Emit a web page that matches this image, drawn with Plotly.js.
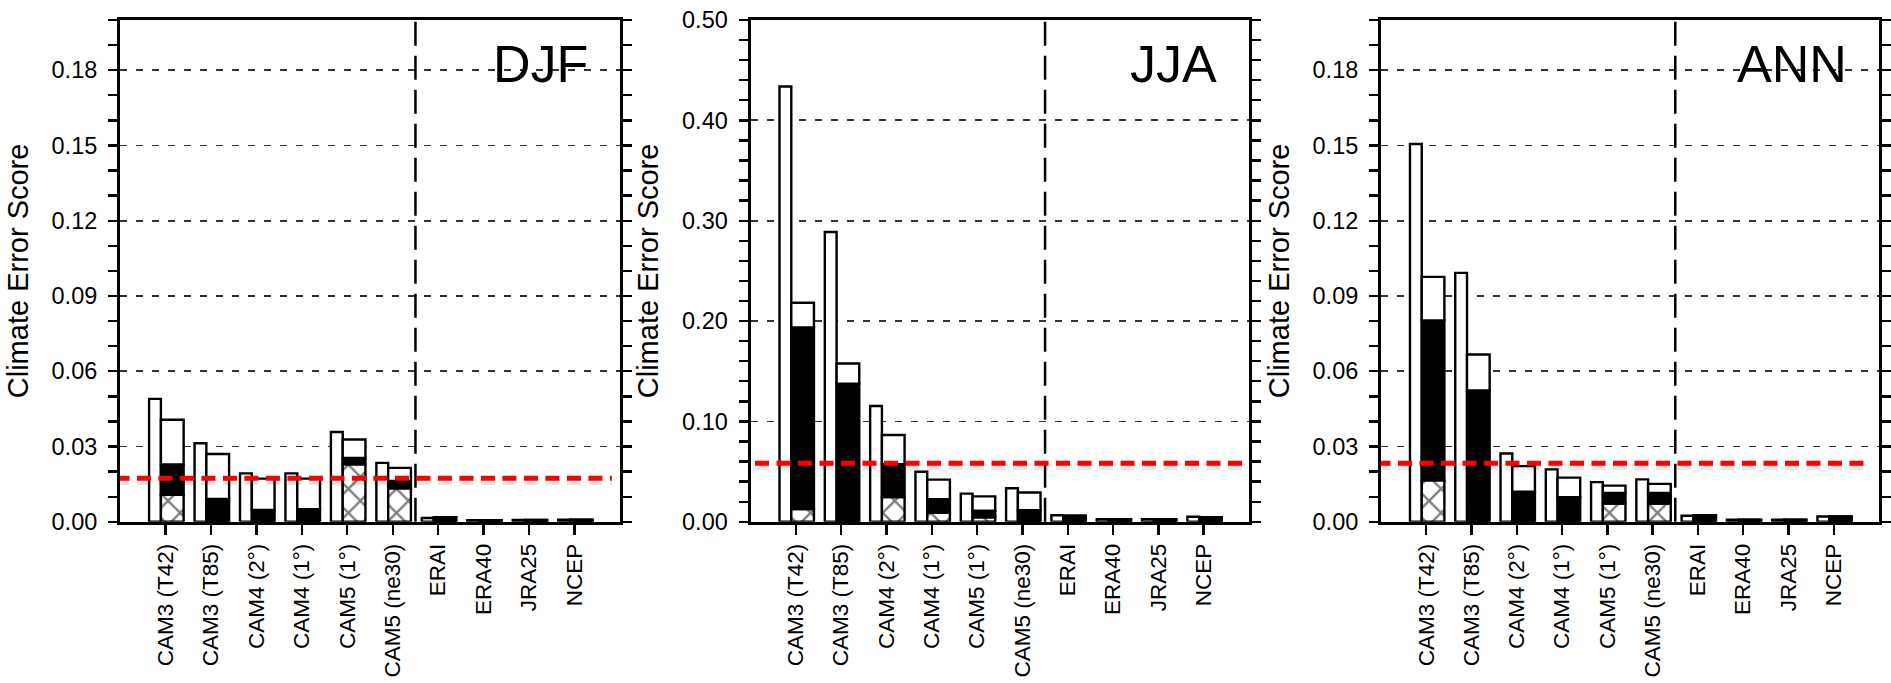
<!DOCTYPE html>
<html>
<head>
<meta charset="utf-8">
<script src="https://cdn.plot.ly/plotly-3.0.1.min.js"></script>
<style>html,body{margin:0;padding:0;background:#fff;}</style>
</head>
<body>
<div id="chart" style="width:1891px;height:683px;"></div>
<script>
// ---------- data ----------
const categories = ['CAM3 (T42)', 'CAM3 (T85)', 'CAM4 (2°)', 'CAM4 (1°)', 'CAM5 (1°)', 'CAM5 (ne30)', 'ERAI', 'ERA40', 'JRA25', 'NCEP'];
const panelNames = ['DJF', 'JJA', 'ANN'];

// left (narrow, white) bar
const djfLeft  = [0.0490, 0.0313, 0.0193, 0.0193, 0.0358, 0.0235, 0.0015, 0.0006, 0.0007, 0.0008];
// right (stacked) bar: total, top of black part, top of hatched part
const djfRight = [0.0407, 0.0270, 0.0172, 0.0172, 0.0328, 0.0215, 0.0018, 0.0006, 0.0007, 0.0008];
const djfBlack = [0.0229, 0.0091, 0.0047, 0.0050, 0.0254, 0.0163, 0.0018, 0.0006, 0.0007, 0.0008];
const djfHatch = [0.0108, 0, 0, 0, 0.0229, 0.0134, 0, 0, 0, 0];

const jjaLeft  = [0.4338, 0.2888, 0.1154, 0.0499, 0.0281, 0.0335, 0.0065, 0.0027, 0.0027, 0.0050];
const jjaRight = [0.2183, 0.1578, 0.0865, 0.0420, 0.0253, 0.0292, 0.0060, 0.0027, 0.0027, 0.0046];
const jjaBlack = [0.1937, 0.1375, 0.0573, 0.0224, 0.0110, 0.0115, 0.0060, 0.0027, 0.0027, 0.0046];
const jjaHatch = [0.0128, 0, 0.0246, 0.0093, 0.0046, 0, 0, 0, 0, 0];

const annLeft  = [0.1506, 0.0992, 0.0272, 0.0209, 0.0158, 0.0169, 0.0024, 0.0008, 0.0008, 0.0021];
const annRight = [0.0976, 0.0667, 0.0222, 0.0176, 0.0144, 0.0151, 0.0026, 0.0008, 0.0008, 0.0021];
const annBlack = [0.0803, 0.0524, 0.0120, 0.0098, 0.0115, 0.0115, 0.0026, 0.0008, 0.0008, 0.0021];
const annHatch = [0.0165, 0, 0, 0, 0.0073, 0.0073, 0, 0, 0, 0];

// red dashed reference level per panel
const refLevels = [0.0174, 0.0584, 0.0233];

// y-axis settings per panel
const yMax   = [0.2, 0.5, 0.2];
const yMajor = [0.03, 0.1, 0.03];
const yMinor = [0.01, 0.02, 0.01];

// ---------- build ----------
const panels = [
  {left: djfLeft, right: djfRight, black: djfBlack, hatch: djfHatch},
  {left: jjaLeft, right: jjaRight, black: jjaBlack, hatch: jjaHatch},
  {left: annLeft, right: annRight, black: annBlack, hatch: annHatch}
];
const xDomains = [[120/1891, 620/1891], [750.5/1891, 1249/1891], [1381/1891, 1879/1891]];
const yDomain = [1 - 521.8/683, 1 - 20/683];
const FONT = 'Liberation Sans, Arial, Helvetica, sans-serif';
const outline = {color: 'black', width: 2.4};

const traces = [];
const layout = {
  width: 1891, height: 683,
  margin: {l: 0, r: 0, t: 0, b: 0},
  paper_bgcolor: 'white', plot_bgcolor: 'white',
  barmode: 'overlay', showlegend: false,
  font: {family: FONT, color: 'black'},
  shapes: [], annotations: []
};

panels.forEach((p, i) => {
  const sfx = i === 0 ? '' : String(i + 1);
  const xa = 'x' + sfx, ya = 'y' + sfx;
  const diffBlack = p.black.map((v, k) => v - p.hatch[k]);
  const diffTop = p.right.map((v, k) => v - p.black[k]);

  traces.push({
    type: 'bar', x: categories, y: p.left, base: 0, xaxis: xa, yaxis: ya,
    width: 0.26, offset: -0.36,
    marker: {color: 'white', line: outline}, hoverinfo: 'y'
  });
  traces.push({
    type: 'bar', x: categories, y: p.hatch, base: 0, xaxis: xa, yaxis: ya,
    width: 0.5, offset: -0.10,
    marker: {color: 'white', line: outline,
      pattern: {shape: 'x', fillmode: 'overlay', fgcolor: 'black', bgcolor: 'white', size: 17, solidity: 0.26}},
    hoverinfo: 'y'
  });
  traces.push({
    type: 'bar', x: categories, y: diffBlack, base: p.hatch, xaxis: xa, yaxis: ya,
    width: 0.5, offset: -0.10,
    marker: {color: 'black', line: outline}, hoverinfo: 'y'
  });
  traces.push({
    type: 'bar', x: categories, y: diffTop, base: p.black, xaxis: xa, yaxis: ya,
    width: 0.5, offset: -0.10,
    marker: {color: 'white', line: outline}, hoverinfo: 'y'
  });

  layout['xaxis' + sfx] = {
    type: 'category', categoryorder: 'array', categoryarray: categories,
    domain: xDomains[i], anchor: ya, range: [-1, 10],
    tickangle: -90, ticks: 'outside', ticklen: 10, tickwidth: 2.4, tickcolor: 'black',
    showline: true, linewidth: 3, linecolor: 'black', mirror: true,
    showgrid: false, zeroline: false,
    tickfont: {family: FONT, size: 22.5, color: 'black'},
    ticklabelstandoff: 0, fixedrange: true
  };
  layout['yaxis' + sfx] = {
    domain: yDomain, anchor: xa, range: [0, yMax[i]],
    tick0: 0, dtick: yMajor[i], tickformat: '.2f',
    ticks: 'outside', ticklen: 9, tickwidth: 2.4, tickcolor: 'black',
    minor: {dtick: yMinor[i], ticks: 'outside', ticklen: 9, tickwidth: 2.4, tickcolor: 'black', showgrid: false},
    showline: true, linewidth: 3, linecolor: 'black', mirror: 'ticks',
    showgrid: true, gridcolor: '#333', gridwidth: 1.8, griddash: '7px,9px',
    zeroline: false,
    tickfont: {family: FONT, size: 23.5, color: 'black'},
    ticklabelstandoff: 6,
    title: {text: 'Climate Error Score', font: {family: FONT, size: 29, color: 'black'}, standoff: 15},
    fixedrange: true
  };

  // divider between models and reanalyses
  layout.shapes.push({
    type: 'line', xref: xa, yref: ya + ' domain', x0: 5.5, x1: 5.5, y0: 0, y1: 1,
    line: {color: 'black', width: 2.5, dash: '24px,10px'}
  });
  // shadow + red reference line
  const xr = i === 1 ? [-0.9, 10.2] : [-1.1, 9.82];
  layout.shapes.push({
    type: 'line', xref: xa, yref: ya, x0: xr[0], x1: xr[1],
    ysizemode: 'pixel', yanchor: refLevels[i], y0: -3, y1: -3,
    line: {color: 'rgba(0,0,0,0.10)', width: 8, dash: '14px,7.5px'}
  });
  layout.shapes.push({
    type: 'line', xref: xa, yref: ya, x0: xr[0], x1: xr[1], y0: refLevels[i], y1: refLevels[i],
    line: {color: '#ff0000', width: 5, dash: '14px,7.5px'}
  });

  layout.annotations.push({
    text: panelNames[i], xref: xa + ' domain', yref: ya + ' domain',
    x: 1, y: 0.912, xanchor: 'right', yanchor: 'middle', xshift: -30,
    showarrow: false, font: {family: FONT, size: 52, color: 'black'}
  });
});

Plotly.newPlot('chart', traces, layout, {displayModeBar: false, staticPlot: true});
</script>
</body>
</html>
